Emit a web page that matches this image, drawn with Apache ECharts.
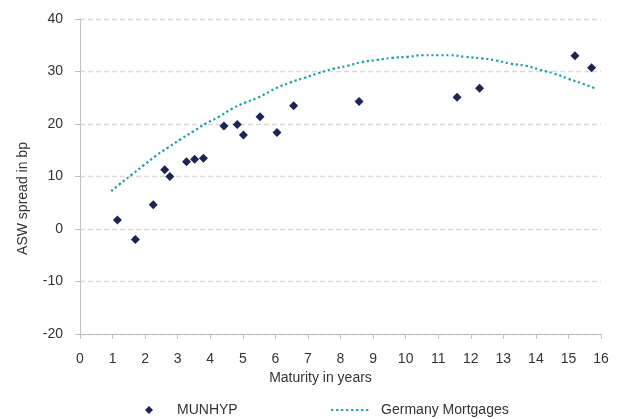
<!DOCTYPE html>
<html>
<head>
<meta charset="utf-8">
<script src="https://cdn.jsdelivr.net/npm/echarts@6/dist/echarts.min.js"></script>
<style>html,body{margin:0;padding:0;background:#fff;}#c{width:622px;height:419px;}</style>
</head>
<body>
<div id="c"></div>
<script>
// MUNHYP bonds: maturity (years) and ASW spread (bp)
var munhypMaturity = [1.15, 1.70, 2.25, 2.60, 2.76, 3.27, 3.52, 3.79, 4.42, 4.83, 5.02, 5.53, 6.05, 6.56, 8.57, 11.58, 12.27, 15.20, 15.71];
var munhypSpread   = [1.7, -2.0, 4.6, 11.3, 10.0, 12.8, 13.3, 13.5, 19.6, 19.9, 17.9, 21.4, 18.4, 23.5, 24.3, 25.1, 26.8, 33.0, 30.7];
// Germany Mortgages curve
var curveMaturity = [0.96, 1.21, 1.58, 1.95, 2.32, 2.70, 3.09, 3.48, 3.87, 4.27, 4.67, 5.08, 5.49, 6.05, 6.46, 6.90, 7.33, 7.77, 8.22, 8.66, 9.12, 9.59, 10.07, 10.55, 11.03, 11.35, 11.83, 12.32, 12.78, 13.22, 13.69, 14.13, 14.56, 15.00, 15.43, 15.85];
var curveSpread   = [7.2, 8.5, 10.3, 12.1, 13.9, 15.5, 17.1, 18.6, 20.1, 21.4, 22.9, 24.1, 25.1, 26.9, 27.9, 28.8, 29.7, 30.5, 31.1, 31.8, 32.2, 32.6, 32.8, 33.1, 33.1, 33.1, 32.8, 32.5, 32.1, 31.5, 31.1, 30.3, 29.6, 28.6, 27.7, 26.7];
var seriesNames = ['MUNHYP', 'Germany Mortgages'];
var xTitle = 'Maturity in years';
var yTitle = 'ASW spread in bp';

var font = 'Liberation Sans';
var txt = '#333333';
var teal = '#17a1a7';
var navy = '#1c2358';
var chart = echarts.init(document.getElementById('c'), null, {renderer: 'canvas'});
chart.setOption({
  animation: false,
  backgroundColor: '#ffffff',
  textStyle: {fontFamily: font},
  grid: {left: 80, right: 21, top: 19, bottom: 85, containLabel: false},
  xAxis: {
    type: 'value', min: 0, max: 16, interval: 1,
    name: xTitle, nameLocation: 'middle', nameGap: 37,
    nameTextStyle: {color: txt, fontSize: 14, fontFamily: font, padding: [0, 40, 0, 0]},
    axisLine: {onZero: false, lineStyle: {color: '#bfbfbf', width: 1}},
    axisTick: {show: true, length: 5, lineStyle: {color: '#bfbfbf'}},
    axisLabel: {color: txt, fontSize: 14, margin: 18, fontFamily: font},
    splitLine: {show: false}
  },
  yAxis: {
    type: 'value', min: -20, max: 40, interval: 10,
    name: yTitle, nameLocation: 'middle', nameGap: 50,
    nameTextStyle: {color: txt, fontSize: 14, fontFamily: font, padding: [0, 44, 0, 0]},
    axisLine: {show: true, lineStyle: {color: '#bfbfbf', width: 1}},
    axisTick: {show: true, length: 5, lineStyle: {color: '#bfbfbf'}},
    axisLabel: {color: txt, fontSize: 14, margin: 17, fontFamily: font},
    splitLine: {show: true, lineStyle: {color: '#d9d9d9', width: 1.3, type: [5, 3]}}
  },
  legend: [
    {
      data: [seriesNames[0]], left: 140, top: 398, orient: 'horizontal',
      itemWidth: 8, itemHeight: 8, icon: 'diamond',
      textStyle: {color: txt, fontSize: 14, fontFamily: font, padding: [0, 0, 0, 19]}
    },
    {
      data: [seriesNames[1]], left: 325, top: 398, orient: 'horizontal',
      itemWidth: 40, itemHeight: 14,
      itemStyle: {opacity: 0},
      lineStyle: {color: teal, width: 2.2, type: [2.2, 2.8], opacity: 1},
      textStyle: {color: txt, fontSize: 14, fontFamily: font, padding: [0, 0, 0, 5]}
    }
  ],
  series: [
    {
      name: seriesNames[0], type: 'scatter', symbol: 'diamond', symbolSize: 9,
      itemStyle: {color: navy, opacity: 1},
      data: munhypMaturity.map(function (m, i) { return [m, munhypSpread[i]]; }),
      z: 3
    },
    {
      name: seriesNames[1], type: 'line', smooth: true, showSymbol: false, symbol: 'none',
      lineStyle: {color: teal, width: 2.2, type: [2.2, 2.8]},
      itemStyle: {color: teal},
      data: curveMaturity.map(function (m, i) { return [m, curveSpread[i]]; }),
      z: 2
    }
  ]
});
</script>
</body>
</html>
